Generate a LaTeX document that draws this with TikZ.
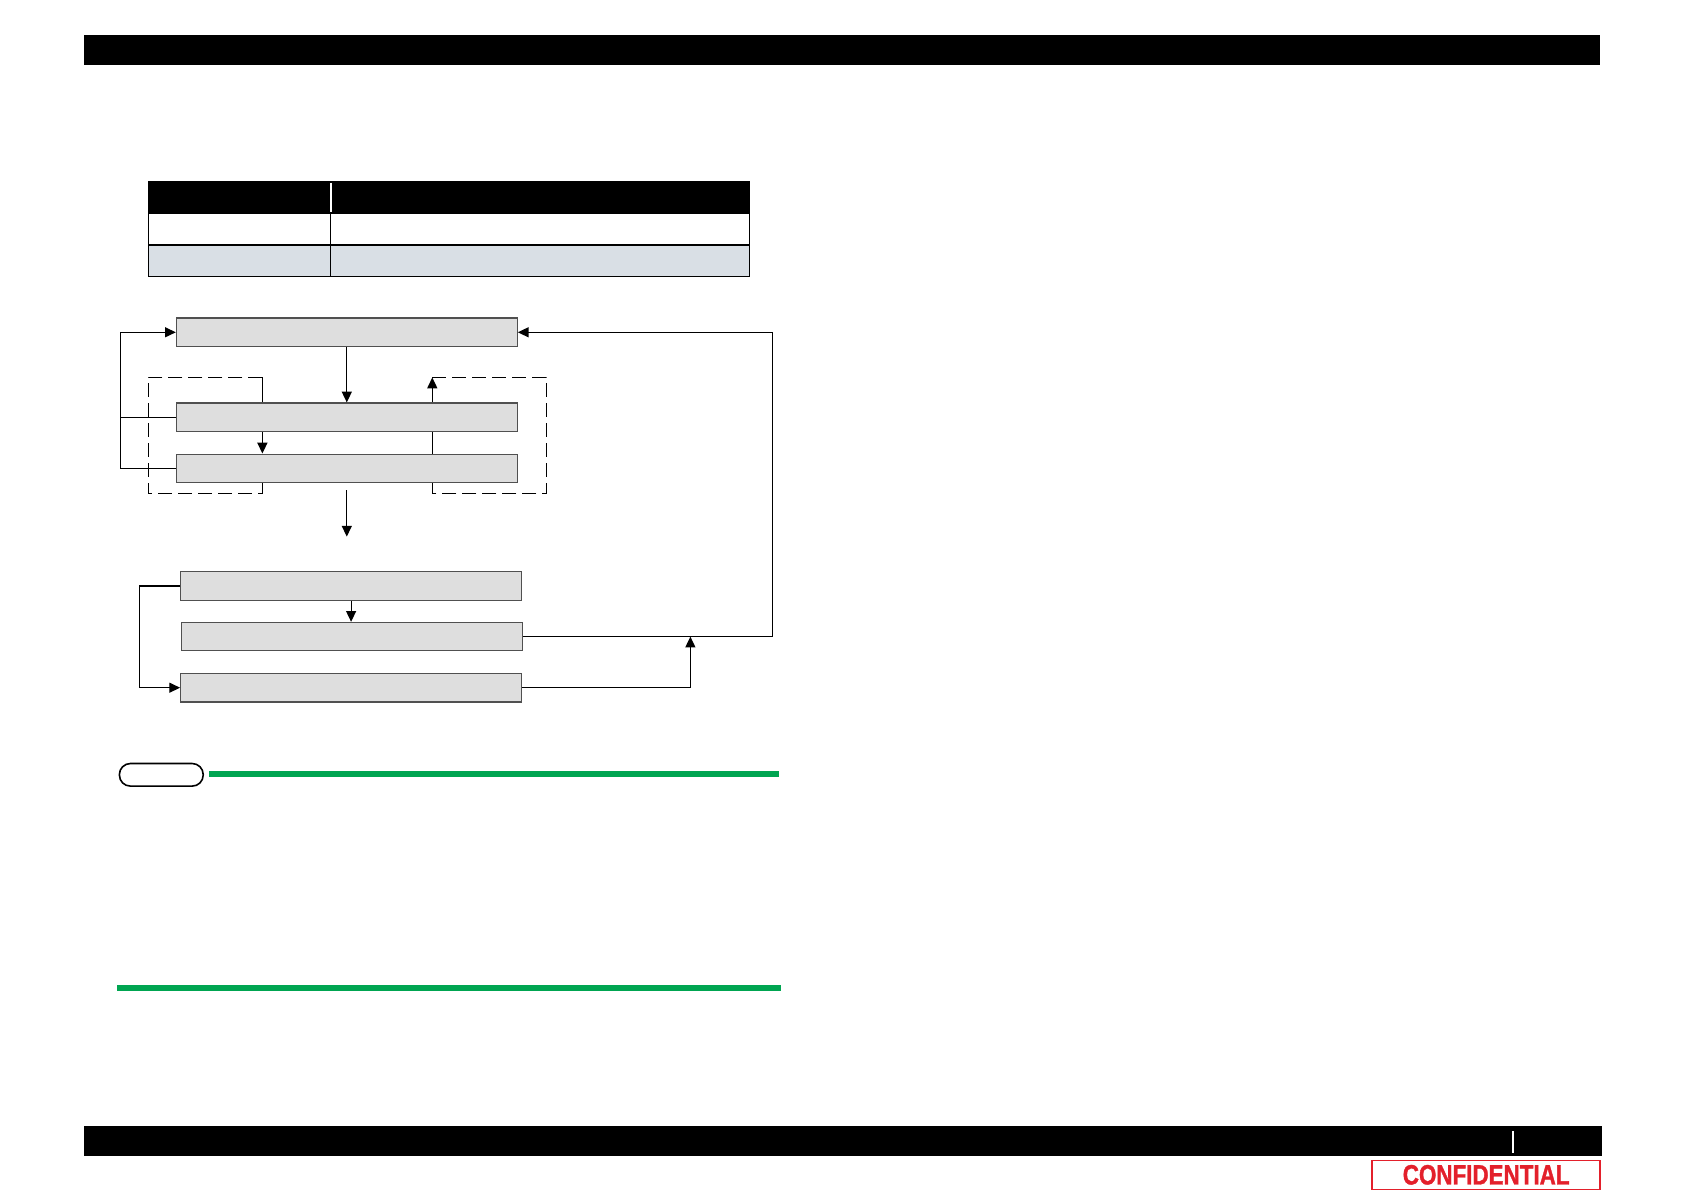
\documentclass[tikz,border=0pt]{standalone}
\usepackage{xcolor}
\usepackage{fontspec}
\newfontfamily\stampfont[FakeStretch=0.8,FakeBold=1.2]{Liberation Sans Bold}
\usetikzlibrary{arrows.meta,backgrounds,positioning}
\definecolor{boxgray}{HTML}{DEDEDE}
\definecolor{boxline}{HTML}{505050}
\definecolor{rowblue}{HTML}{D9DFE5}
\definecolor{notegreen}{HTML}{00A551}
\definecolor{stampred}{HTML}{E3202B}

\begin{document}
\begin{tikzpicture}[x=0.5377pt, y=-0.5377pt,
  flowbox/.style={draw=boxline, fill=boxgray, line width=0.6pt, minimum width=170.4pt, minimum height=14.2pt, inner sep=0pt},
  cellbox/.style={draw=black, line width=0.6pt, minimum height=15.8pt, inner sep=0pt},
  link/.style={line width=0.6pt},
  tip/.style={-{Triangle[length=5.4pt,width=5pt]}},
  loopline/.style={line width=0.6pt, dash pattern=on 7pt off 3pt}]

\useasboundingbox (0,0) rectangle (1566,1107);

% page bars
\fill (78,33) rectangle (1488,60);
\fill (78,1047) rectangle (1490,1075);
\draw[white, line width=0.8pt] (1407,1052) -- (1407,1072);

% table
\node (h1) at (222.5,183.5) [cellbox, fill=black, minimum width=90.9pt] {};
\node (h2) at (502,183.5) [cellbox, fill=black, minimum width=209.7pt] {};
\draw[white, line width=0.8pt] ([yshift=-1pt]h1.north east) -- ([yshift=1pt]h1.south east);
\node (r1a) at (222.5,213) [cellbox, fill=white, minimum width=90.9pt] {};
\node (r1b) at (502,213) [cellbox, fill=white, minimum width=209.7pt] {};
\node (r2a) at (222.5,242.5) [cellbox, fill=rowblue, minimum width=90.9pt] {};
\node (r2b) at (502,242.5) [cellbox, fill=rowblue, minimum width=209.7pt] {};

% flow boxes
\node (b1) at (322.5,309) [flowbox] {};
\node (b2) at (322.5,388) [flowbox] {};
\node (b3) at (322.5,435.5) [flowbox] {};
\node (b4) at (326.5,545) [flowbox] {};
\node (b5) at (327.5,592) [flowbox] {};
\node (b6) at (326.5,639.5) [flowbox] {};

\coordinate (lt) at (244,351);
\coordinate (lb) at (244,459);
\coordinate (rt) at (402,351);
\coordinate (rb) at (402,459);
\coordinate (lfb) at (112,0);
\coordinate (rfb) at (718,0);
\coordinate (lfb2) at (130,0);
\coordinate (mrg) at (642,0);
\coordinate (dtop) at (322.5,456);
\coordinate (dbot) at (322.5,499);

% dashed loops
\begin{scope}[on background layer]
\draw[loopline] (lt) -- (138,351) -- (138,459) -- (lb);
\draw[loopline] (rt) -- (508,351) -- (508,459) -- (rb);
\end{scope}
\draw[link] (b2.north -| lt) -- (lt);
\draw[link] (b3.south -| lb) -- (lb);
\draw[link] (rb) -- (b3.south -| rb);
\draw[link] (b3.north -| rt) -- (b2.south -| rt);
\draw[link,tip] (b2.north -| rt) -- (rt);

% upper group
\draw[link,tip] (b1.south) -- (b2.north);
\draw[link,tip] (b2.south -| lt) -- (b3.north -| lt);
\draw[link] (b2.west) -- (b2.west -| lfb);
\draw[link,tip] (b3.west) -- (b3.west -| lfb) |- (b1.west);
\draw[link,tip] (b5.east) -- (b5.east -| rfb) |- (b1.east);
\draw[link,tip] (dtop) -- (dbot);

% lower group
\draw[link,tip] (b4.south) -- (b5.north -| b4.south);
\draw[link,tip] (b4.west) -- (b4.west -| lfb2) |- (b6.west);
\draw[link,tip] (b6.east) -- (b6.east -| mrg) -- (b5.east -| mrg);

% note
\node (note) at (150,720.5) [draw, rounded corners=5.5pt, line width=0.8pt, minimum width=41.9pt, minimum height=11.3pt, inner sep=0pt] {};
\fill[notegreen] (194,717) rectangle (724,723);
\fill[notegreen] (109,916) rectangle (726,922);

% stamp
\node (stamp) at (1382,1092.5) [draw=stampred, line width=0.8pt, minimum width=114pt, minimum height=14.5pt, inner sep=0pt, text=stampred, font=\stampfont\fontsize{14}{14}\selectfont] {CONFIDENTIAL};

\end{tikzpicture}
\end{document}
